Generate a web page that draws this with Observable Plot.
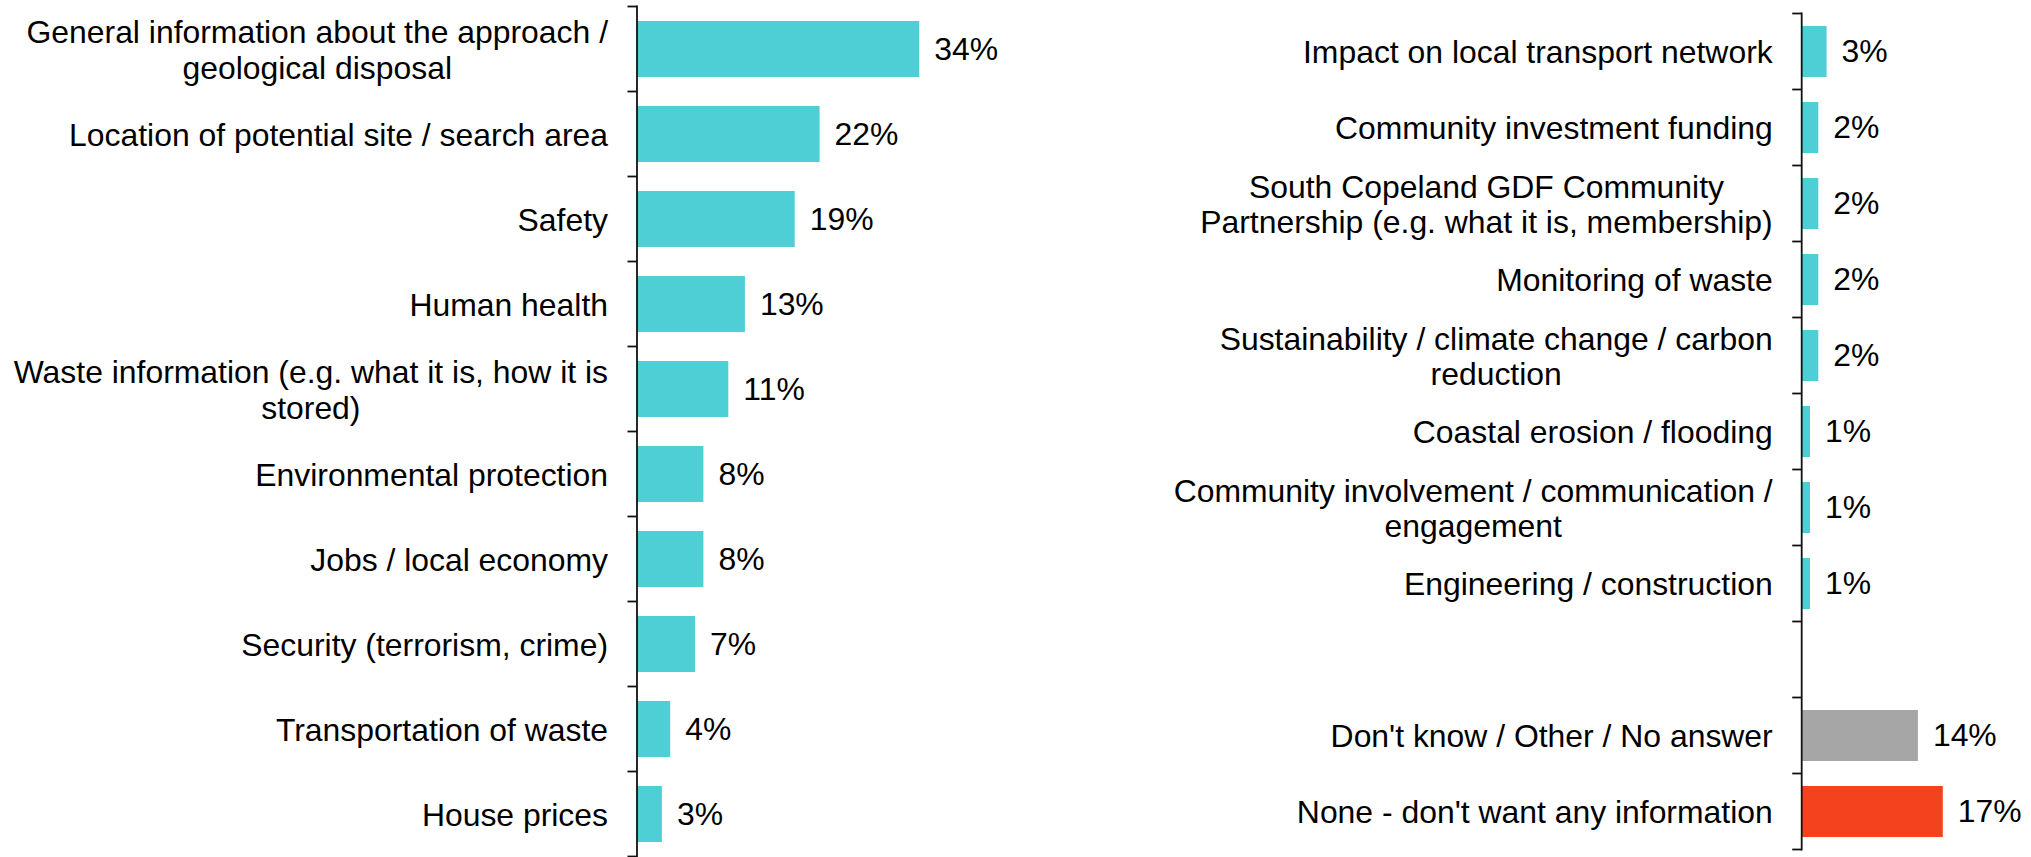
<!DOCTYPE html>
<html>
<head>
<meta charset="utf-8">
<script src="https://cdn.jsdelivr.net/npm/d3@7"></script>
<script src="https://cdn.jsdelivr.net/npm/@observablehq/plot@0.6"></script>
<style>
  html, body { margin: 0; padding: 0; background: #fff; overflow: hidden; width: 2031px; height: 857px; }
  #left, #right { position: absolute; top: 0; }
  #left { left: 0; }
  #right { left: 1015px; }
  svg { overflow: visible; }
</style>
</head>
<body>
<div id="left"></div>
<div id="right"></div>
<script>
// ---- data ----
const leftLabels = [
  "General information about the approach /\ngeological disposal",
  "Location of potential site / search area",
  "Safety",
  "Human health",
  "Waste information (e.g. what it is, how it is\nstored)",
  "Environmental protection",
  "Jobs / local economy",
  "Security (terrorism, crime)",
  "Transportation of waste",
  "House prices"
];
const leftValues = [34, 22, 19, 13, 11, 8, 8, 7, 4, 3];

const rightLabels = [
  "Impact on local transport network",
  "Community investment funding",
  "South Copeland GDF Community\nPartnership (e.g. what it is, membership)",
  "Monitoring of waste",
  "Sustainability / climate change / carbon\nreduction",
  "Coastal erosion / flooding",
  "Community involvement / communication /\nengagement",
  "Engineering / construction",
  "",
  "Don't know / Other / No answer",
  "None - don't want any information"
];
const rightValues = [3, 2, 2, 2, 2, 1, 1, 1, null, 14, 17];

const CYAN = "#4ECFD5", GREY = "#A6A6A6", RED = "#F4421F";
const leftColors = leftValues.map(() => CYAN);
const rightColors = [CYAN, CYAN, CYAN, CYAN, CYAN, CYAN, CYAN, CYAN, null, GREY, RED];

// ---- style ----
const FONT = '"Liberation Sans", Arial, sans-serif';
const FS = 31.9;
const LABEL_GAP = 29.5;

function rowsOf(labels, values, colors) {
  return labels.map((label, i) => ({label, value: values[i], color: colors[i]}));
}

// axis line + ticks on band boundaries (Excel style), from the plot's own scales
function bandAxis(tickLen) {
  return (index, scales) => {
    const y = scales.y, x = scales.x;
    const dom = y.domain();
    const bw = y.bandwidth();
    const step = y.step ? y.step() : (y(dom[1]) - y(dom[0]));
    const x0 = x(0);
    const first = y(dom[0]) - (step - bw) / 2;
    const g = d3.create("svg:g").attr("stroke", "#111").attr("stroke-width", 1.8);
    g.append("line").attr("x1", x0).attr("x2", x0).attr("y1", first - 0.9).attr("y2", first + dom.length * step + 0.9);
    for (let i = 0; i <= dom.length; i++) {
      const yy = first + i * step;
      g.append("line").attr("x1", x0 - tickLen).attr("x2", x0).attr("y1", yy).attr("y2", yy);
    }
    return g.node();
  };
}

// category labels: lines centered on each other, block right-aligned next to the axis
function centeredBlock(index, scales, values, dims, context, next) {
  const g = next(index, scales, values, dims, context);
  const ctx = document.createElement("canvas").getContext("2d");
  ctx.font = `${FS}px "Liberation Sans"`;
  g.querySelectorAll("text").forEach((t) => {
    const spans = t.querySelectorAll("tspan");
    const lines = spans.length ? Array.from(spans, (s) => s.textContent) : [t.textContent];
    const w = Math.max(...lines.map((l) => ctx.measureText(l).width));
    t.setAttribute("transform", `translate(${-(LABEL_GAP + w / 2)},0) ` + (t.getAttribute("transform") || ""));
  });
  return g;
}

function panel({labels, values, colors, width, height, marginLeft, marginRight, marginTop, marginBottom, xMax, pad}) {
  const rows = rowsOf(labels, values, colors);
  const withValue = rows.filter((d) => d.value != null);
  return Plot.plot({
    width, height, marginLeft, marginRight, marginTop, marginBottom,
    style: {fontFamily: FONT, fontSize: FS + "px", color: "#000", background: "transparent", overflow: "visible"},
    x: {domain: [0, xMax], axis: null},
    y: {domain: labels, axis: null, paddingInner: pad, paddingOuter: pad / 2},
    color: {type: "identity"},
    marks: [
      Plot.barX(withValue, {x: "value", y: "label", fill: "color"}),
      bandAxis(9.5),
      Plot.text(withValue, {
        x: "value", y: "label", text: (d) => d.value + "%",
        textAnchor: "start", dx: 14.5, fontSize: FS, fill: "#000"
      }),
      Plot.text(rows.filter((d) => d.label !== ""), {
        x: () => 0, y: "label", text: "label",
        textAnchor: "middle", lineAnchor: "middle", lineHeight: 1.11,
        fontSize: FS, fill: "#000",
        render: centeredBlock
      })
    ]
  });
}

document.getElementById("left").append(panel({
  labels: leftLabels, values: leftValues, colors: leftColors,
  width: 1015, height: 860, marginLeft: 637, marginRight: 46, marginTop: 4.6, marginBottom: 1.3,
  xMax: 40, pad: 0.34
}));

document.getElementById("right").append(panel({
  labels: rightLabels, values: rightValues, colors: rightColors,
  width: 1016, height: 857, marginLeft: 786.7, marginRight: 21.8, marginTop: 11.7, marginBottom: 5.3,
  xMax: 25, pad: 0.335
}));
</script>
</body>
</html>
